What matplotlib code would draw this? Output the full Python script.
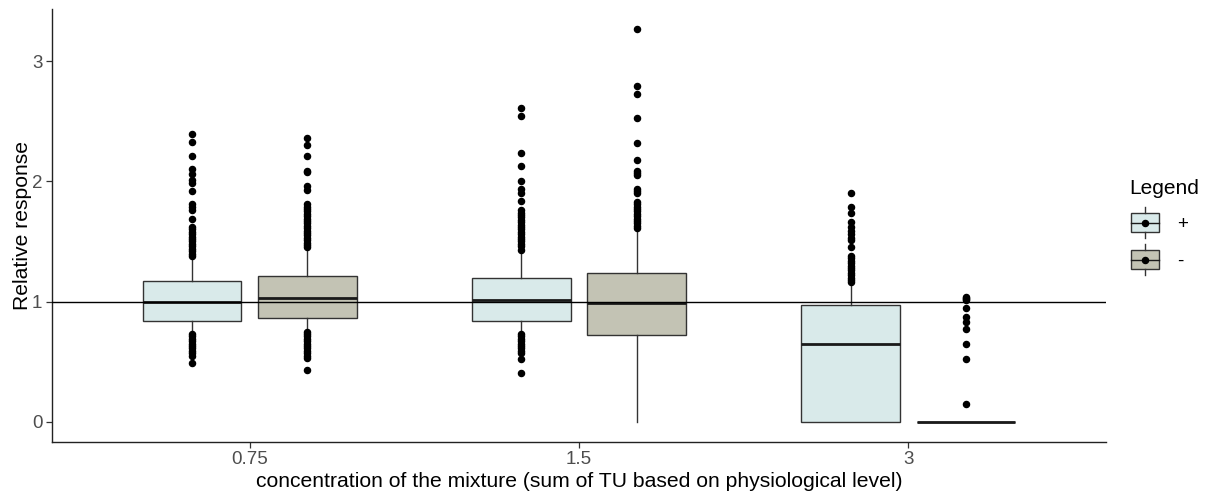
import matplotlib
matplotlib.use("Agg")
import matplotlib.pyplot as plt
from matplotlib.patches import Patch, Rectangle
from matplotlib.lines import Line2D
from matplotlib.legend_handler import HandlerBase

plt.rcParams['font.family'] = ['Liberation Sans', 'DejaVu Sans']

# ---- data ----
levels = ["0.75", "1.5", "3"]
groups = ["+", "-"]

plus_med = [1.00, 1.01, 0.645]
plus_q1 = [0.84, 0.835, 0.0]
plus_q3 = [1.175, 1.20, 0.975]
plus_lo = [0.75, 0.745, 0.0]
plus_hi = [1.36, 1.40, 1.15]

minus_med = [1.03, 0.99, 0.0]
minus_q1 = [0.86, 0.725, 0.0]
minus_q3 = [1.215, 1.235, 0.0]
minus_lo = [0.76, 0.0, 0.0]
minus_hi = [1.44, 1.59, 0.0]

plus_out_075 = [2.39, 2.33, 2.21, 2.10, 2.06, 2.01, 1.99, 1.92, 1.81, 1.79, 1.76, 1.69,
                1.62, 1.60, 1.58, 1.56, 1.54, 1.52, 1.50, 1.48, 1.46, 1.44, 1.42, 1.40, 1.38,
                0.73, 0.71, 0.69, 0.67, 0.65, 0.63, 0.61, 0.59, 0.57, 0.55, 0.49]
plus_out_15 = [2.61, 2.54, 2.24, 2.13, 2.00, 1.94, 1.90, 1.84, 1.76, 1.74, 1.72, 1.70,
               1.68, 1.66, 1.64, 1.62, 1.60, 1.58, 1.56, 1.54, 1.52, 1.50, 1.48, 1.46, 1.43,
               0.73, 0.71, 0.69, 0.67, 0.65, 0.63, 0.61, 0.59, 0.57, 0.52, 0.405]
plus_out_3 = [1.90, 1.79, 1.74, 1.66, 1.62, 1.59, 1.56, 1.53, 1.51, 1.45, 1.38, 1.36,
              1.34, 1.32, 1.30, 1.28, 1.26, 1.24, 1.22, 1.20, 1.18, 1.16]

minus_out_075 = [2.36, 2.30, 2.21, 2.09, 2.08, 1.96, 1.93, 1.81, 1.79, 1.77, 1.75, 1.73,
                 1.71, 1.69, 1.67, 1.65, 1.63, 1.61, 1.59, 1.57, 1.55, 1.53, 1.51, 1.49, 1.47, 1.45,
                 0.75, 0.73, 0.71, 0.69, 0.67, 0.65, 0.63, 0.61, 0.59, 0.57, 0.55, 0.53, 0.43]
minus_out_15 = [3.27, 2.79, 2.73, 2.53, 2.32, 2.175, 2.09, 2.07, 2.05, 1.94, 1.92, 1.90,
                1.83, 1.81, 1.79, 1.77, 1.75, 1.73, 1.71, 1.69, 1.67, 1.65, 1.63, 1.61]
minus_out_3 = [1.04, 1.03, 1.02, 1.01, 0.95, 0.875, 0.83, 0.77, 0.65, 0.52, 0.15]

plus_out = [plus_out_075, plus_out_15, plus_out_3]
minus_out = [minus_out_075, minus_out_15, minus_out_3]

ref_value = 1.0

# ---- style ----
colors = {"+": "#D9EAEA", "-": "#C3C3B4"}
edge = "#333333"
offset = 0.175
box_w = 0.30

fig = plt.figure(figsize=(12.06, 4.93), dpi=100)
ax = fig.add_axes([52 / 1206, 1 - 441.5 / 493, (1106 - 52) / 1206, (441.5 - 9) / 493])


def stats(med, q1, q3, lo, hi, out):
    return [dict(med=m, q1=a, q3=b, whislo=l, whishi=h, fliers=f, label="")
            for m, a, b, l, h, f in zip(med, q1, q3, lo, hi, out)]


series = [
    ("+", stats(plus_med, plus_q1, plus_q3, plus_lo, plus_hi, plus_out), -offset),
    ("-", stats(minus_med, minus_q1, minus_q3, minus_lo, minus_hi, minus_out), offset),
]

for g, st, off in series:
    pos = [i + 1 + off for i in range(len(levels))]
    ax.bxp(st, positions=pos, widths=box_w, patch_artist=True, showcaps=False,
           boxprops=dict(facecolor=colors[g], edgecolor=edge, linewidth=1.0),
           whiskerprops=dict(color=edge, linewidth=1.0),
           medianprops=dict(color="#1a1a1a", linewidth=2.0),
           flierprops=dict(marker='o', markerfacecolor='black', markeredgecolor='black',
                           markersize=4.4, linestyle='none'),
           manage_ticks=False, zorder=2)

ax.axhline(ref_value, color="black", linewidth=1.0, zorder=3)

ax.set_xlim(0.4, 3.6)
ax.set_ylim(-0.1635, 3.4335)
ax.set_xticks(range(1, len(levels) + 1))
ax.set_xticklabels(levels)
ax.set_yticks([0, 1, 2, 3])
ax.set_yticklabels(["0", "1", "2", "3"])

for s in ["top", "right"]:
    ax.spines[s].set_visible(False)
for s in ["left", "bottom"]:
    ax.spines[s].set_color("#222222")
    ax.spines[s].set_linewidth(1.0)
ax.tick_params(axis='both', colors="#333333", length=4, width=0.9,
               labelsize=13.5, labelcolor="#4D4D4D", pad=3)

ax.set_xlabel("concentration of the mixture (sum of TU based on physiological level)",
              fontsize=15.2, color="black", labelpad=3)
ax.set_ylabel("Relative response", fontsize=15.2, color="black", labelpad=-0.3)

PT = 72.0 / 100.0  # points per pixel


class BoxHandler(HandlerBase):
    def create_artists(self, legend, orig_handle, xdescent, ydescent, width, height,
                       fontsize, trans):
        fc = orig_handle.get_facecolor()
        x0 = -xdescent
        cx = x0 + width / 2
        cy = -ydescent + height / 2
        half_w = 15.5 * PT
        half_b = 9.5 * PT
        rect = Rectangle((x0, cy - half_b), width, 2 * half_b, facecolor=fc, edgecolor=edge,
                         linewidth=1.0, transform=trans)
        w1 = Line2D([cx, cx], [cy - half_w, cy - half_b], color=edge, linewidth=1.0, transform=trans)
        w2 = Line2D([cx, cx], [cy + half_b, cy + half_w], color=edge, linewidth=1.0, transform=trans)
        med = Line2D([x0, x0 + width], [cy, cy], color="#1a1a1a", linewidth=1.0, transform=trans)
        dot = Line2D([cx], [cy], marker='o', markersize=4.4, color='black',
                     linestyle='none', transform=trans)
        return [rect, w1, w2, med, dot]


handles = [Patch(facecolor=colors[g]) for g in groups]
leg = fig.legend(handles, groups, handler_map={Patch: BoxHandler()},
                 loc='upper left', bbox_to_anchor=(1131 / 1206, 1 - 179 / 493),
                 frameon=False, fontsize=13.5, title="Legend", title_fontsize=15,
                 handlelength=1.5, handleheight=1.8, labelspacing=0.57,
                 handletextpad=0.95, borderpad=0, borderaxespad=0, alignment='left')
leg._legend_box.sep = 8.2
leg.get_title().set_x(-2)

fig.savefig("out.png", dpi=100)
